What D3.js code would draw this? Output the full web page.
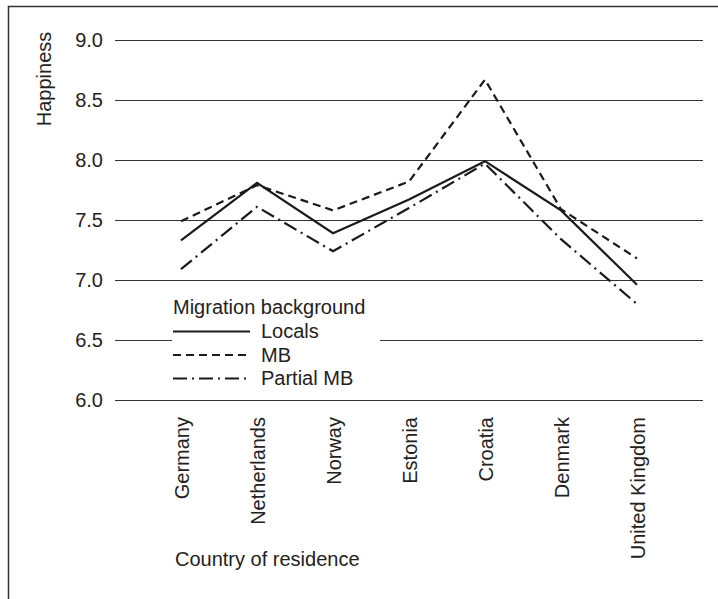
<!DOCTYPE html>
<html>
<head>
<meta charset="utf-8">
<script src="https://cdn.jsdelivr.net/npm/d3@7"></script>
<style>
  body { margin: 0; background: #fff; }
  text { font-family: "Liberation Sans", Arial, sans-serif; fill: #222; }
</style>
</head>
<body>
<div id="chart"></div>
<script>
var w = 718;
var h = 599;

// data
var countries = ["Germany", "Netherlands", "Norway", "Estonia", "Croatia", "Denmark", "United Kingdom"];
var locals    = [7.33, 7.81, 7.39, 7.67, 7.99, 7.58, 6.96];
var mb        = [7.49, 7.79, 7.58, 7.82, 8.67, 7.59, 7.18];
var partialMb = [7.09, 7.61, 7.24, 7.60, 7.97, 7.34, 6.80];
var yTicks    = [6.0, 6.5, 7.0, 7.5, 8.0, 8.5, 9.0];
var seriesNames = ["Locals", "MB", "Partial MB"];

var series = [
  { name: seriesNames[0], values: locals,    dash: null },
  { name: seriesNames[1], values: mb,        dash: "8,5" },
  { name: seriesNames[2], values: partialMb, dash: "14,5,2,5" }
];

var fontSize = "20px";

var svg = d3.select("#chart")
  .append("svg")
  .attr("width", w)
  .attr("height", h);

// frame (only top and left edge fall inside the picture)
svg.append("rect")
  .attr("x", 8.5)
  .attr("y", 6.5)
  .attr("width", 760)
  .attr("height", 700)
  .attr("fill", "none")
  .attr("stroke", "#333")
  .attr("stroke-width", 1.5);

var xScale = d3.scalePoint()
  .domain(countries)
  .range([181, 637]);

var yScale = d3.scaleLinear()
  .domain([6, 9])
  .range([400, 40]);

var gridLeft = 115, gridRight = 703;

// y axis with gridlines
var yAxis = svg.append("g")
  .attr("transform", "translate(" + gridLeft + ",0)")
  .call(d3.axisLeft(yScale)
    .tickValues(yTicks)
    .tickFormat(d3.format(".1f"))
    .tickSize(-(gridRight - gridLeft))
    .tickPadding(12));
yAxis.select(".domain").remove();
yAxis.selectAll(".tick line").attr("stroke", "#333").attr("stroke-width", 1.2);
yAxis.selectAll(".tick text")
  .style("font-size", fontSize)
  .attr("fill", "#222");

// x axis labels, rotated
var xAxis = svg.append("g")
  .attr("transform", "translate(0,400)")
  .call(d3.axisBottom(xScale).tickSize(0));
xAxis.select(".domain").remove();
xAxis.selectAll(".tick text")
  .attr("transform", "rotate(-90)")
  .attr("x", -17)
  .attr("y", 0)
  .attr("dy", "0.36em")
  .style("text-anchor", "end")
  .style("font-size", fontSize)
  .attr("fill", "#222");

// lines
var line = d3.line()
  .x(function (d, i) { return xScale(countries[i]); })
  .y(function (d) { return yScale(d); });

svg.selectAll("path.series")
  .data(series)
  .enter()
  .append("path")
  .attr("class", "series")
  .attr("d", function (d) { return line(d.values); })
  .attr("fill", "none")
  .attr("stroke", "#1a1a1a")
  .attr("stroke-width", 2.2)
  .attr("stroke-dasharray", function (d) { return d.dash; });

// axis titles
svg.append("text")
  .attr("transform", "translate(51,79) rotate(-90)")
  .style("text-anchor", "middle")
  .style("font-size", fontSize)
  .text("Happiness");

svg.append("text")
  .attr("x", 175)
  .attr("y", 566)
  .style("font-size", fontSize)
  .text("Country of residence");

// legend
var legend = svg.append("g");
legend.append("rect")
  .attr("x", 172)
  .attr("y", 292)
  .attr("width", 208)
  .attr("height", 96)
  .attr("fill", "#fff");
legend.append("text")
  .attr("x", 173)
  .attr("y", 314)
  .style("font-size", fontSize)
  .text("Migration background");

var rows = legend.selectAll("g.row")
  .data(series)
  .enter()
  .append("g")
  .attr("class", "row")
  .attr("transform", function (d, i) { return "translate(0," + (338 + i * 23.5) + ")"; });
rows.append("line")
  .attr("x1", 173)
  .attr("x2", 250)
  .attr("y1", -6.5)
  .attr("y2", -6.5)
  .attr("stroke", "#1a1a1a")
  .attr("stroke-width", 2.2)
  .attr("stroke-dasharray", function (d) { return d.dash; });
rows.append("text")
  .attr("x", 261)
  .attr("y", 0)
  .style("font-size", fontSize)
  .text(function (d) { return d.name; });
</script>
</body>
</html>
